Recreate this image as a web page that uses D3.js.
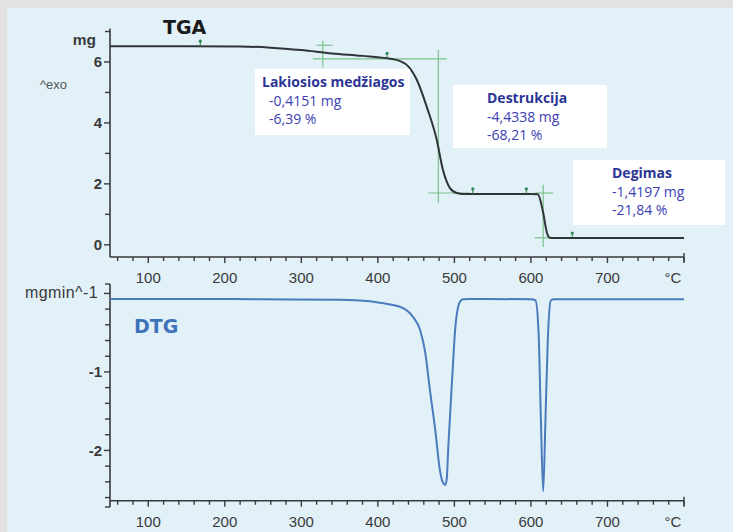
<!DOCTYPE html>
<html><head><meta charset="utf-8">
<script src="https://cdn.jsdelivr.net/npm/d3@7"></script>
<style>html,body{margin:0;padding:0;background:#e2e2e2;}svg{display:block;}</style>
</head><body>
<svg id="c" width="733" height="532"></svg>
<script>
// ---------- DATA ----------
const tgaTemp = [50,150,220,260,300,340,380,412,430,440,451,464,477,485,494,503,512,600,609,613,616,621,625,630,800];
const tgaMass = [6.52,6.52,6.51,6.47,6.39,6.28,6.20,6.12,6.02,5.85,5.41,4.52,3.44,2.46,1.87,1.70,1.67,1.67,1.66,1.40,1.05,0.39,0.23,0.22,0.22];
const dtgTemp = [50,150,250,350,390,403,429,446,455,462,468,475,481,485,488,490,492,497,501,507,511,520,600,606,610,613,616,619,622,626,630,800];
const dtgRate = [-0.07,-0.07,-0.075,-0.08,-0.10,-0.12,-0.17,-0.30,-0.46,-0.76,-1.23,-1.74,-2.25,-2.41,-2.44,-2.36,-1.96,-1.10,-0.46,-0.11,-0.075,-0.07,-0.075,-0.09,-0.50,-1.60,-2.52,-1.60,-0.60,-0.09,-0.075,-0.075];
const xMajorTicks = [100,200,300,400,500,600,700];
const tgaTickLabels = [0,2,4,6];
const dtgTickLabels = [-1,-2];
const markerTemps = [168,412,524,594,654];
// tangent cross lines in data coords [t1,m1,t2,m2]
const crossLines = [
  [328,6.70,328,5.83],[320,6.55,341,6.55],[315,6.10,490,6.10],
  [479,6.39,479,1.38],[466,1.70,520,1.70],
  [616,1.97,616,-0.07],[605,1.70,629,1.70],[605,0.23,625,0.23]
];
const steps = [
  {name:"Lakiosios medžiagos", mg:"-0,4151 mg", pct:"-6,39 %"},
  {name:"Destrukcija", mg:"-4,4338 mg", pct:"-68,21 %"},
  {name:"Degimas", mg:"-1,4197 mg", pct:"-21,84 %"}
];

// ---------- DRAW ----------
const svg = d3.select("#c");
svg.append("rect").attr("x",7).attr("y",8).attr("width",726).attr("height",524).attr("fill","#e2f0f8");

const x = d3.scaleLinear().domain([50,800]).range([110,684]);
const yT = d3.scaleLinear().domain([-0.4,7]).range([257,31.5]);
const yD = d3.scaleLinear().domain([-2.64,0.12]).range([500.7,284]);

const axisColor = "#3a3a3a";
const labFont = "Liberation Sans, Arial, sans-serif";
const titleFont = "DejaVu Sans, Verdana, sans-serif";

function xAxis(yPix, labelY){
  const g = svg.append("g");
  g.append("line").attr("x1",x(50)).attr("x2",x(800)).attr("y1",yPix).attr("y2",yPix)
    .attr("stroke",axisColor).attr("stroke-width",1.6);
  d3.range(60,801,20).forEach(t=>{
    const major = t%100===0;
    g.append("line").attr("x1",x(t)).attr("x2",x(t)).attr("y1",yPix).attr("y2",yPix+(major?6:4))
      .attr("stroke",axisColor).attr("stroke-width",1.4);
  });
  g.append("line").attr("x1",x(800)).attr("x2",x(800)).attr("y1",yPix-4).attr("y2",yPix+5)
    .attr("stroke",axisColor).attr("stroke-width",1.4);
  g.selectAll("text.t").data(xMajorTicks).enter().append("text")
    .attr("x",d=>x(d)).attr("y",labelY).attr("text-anchor","middle")
    .attr("font-family",labFont).attr("font-size",15).attr("fill","#3a3a3a").text(d=>d);
  g.append("text").attr("x",673).attr("y",labelY).attr("text-anchor","middle")
    .attr("font-family",labFont).attr("font-size",15).attr("fill","#3a3a3a").text("°C");
}

// ---- TGA y axis
const gT = svg.append("g");
gT.append("line").attr("x1",110).attr("x2",110).attr("y1",yT(7)-3).attr("y2",257)
  .attr("stroke",axisColor).attr("stroke-width",1.6);
d3.range(0,8).forEach(v=>{
  gT.append("line").attr("x1",110).attr("x2",v%2===0?104:105).attr("y1",yT(v)).attr("y2",yT(v))
    .attr("stroke",axisColor).attr("stroke-width",1.4);
});
gT.selectAll("text").data(tgaTickLabels).enter().append("text")
  .attr("x",102).attr("y",d=>yT(d)+5.5).attr("text-anchor","end")
  .attr("font-family",labFont).attr("font-size",15).attr("fill","#3a3a3a").attr("font-weight","bold").text(d=>d);
gT.append("text").attr("x",96).attr("y",45).attr("text-anchor","end")
  .attr("font-family",labFont).attr("font-size",15.5).attr("font-weight","bold").attr("fill","#3a3a3a").text("mg");
gT.append("text").attr("x",40).attr("y",89)
  .attr("font-family",labFont).attr("font-size",13).attr("fill","#555").text("^exo");
svg.append("text").attr("x",163).attr("y",34)
  .attr("font-family",titleFont).attr("font-size",19).attr("font-weight","bold").attr("fill","#1a1a1a").text("TGA");
xAxis(257, 282.5);

// ---- DTG y axis
const gD = svg.append("g");
gD.append("line").attr("x1",110).attr("x2",110).attr("y1",yD(0.12)).attr("y2",507)
  .attr("stroke",axisColor).attr("stroke-width",1.6);
d3.range(0,14).map(i=>-i*0.2).forEach(v=>{
  gD.append("line").attr("x1",110).attr("x2",Math.abs(v%1)<1e-6?104:105).attr("y1",yD(v)).attr("y2",yD(v))
    .attr("stroke",axisColor).attr("stroke-width",1.4);
});
gD.append("line").attr("x1",110).attr("x2",105).attr("y1",yD(0.12)).attr("y2",yD(0.12)).attr("stroke",axisColor).attr("stroke-width",1.4);
gD.append("line").attr("x1",110).attr("x2",105).attr("y1",507).attr("y2",507).attr("stroke",axisColor).attr("stroke-width",1.4);
gD.selectAll("text").data(dtgTickLabels).enter().append("text")
  .attr("x",102).attr("y",d=>yD(d)+5.5).attr("text-anchor","end")
  .attr("font-family",labFont).attr("font-size",15).attr("font-weight","bold").attr("fill","#3a3a3a").text(d=>d);
gD.append("text").attr("x",98).attr("y",297.5).attr("text-anchor","end")
  .attr("font-family",labFont).attr("font-size",16).attr("fill","#3a3a3a").attr("letter-spacing",0.4).text("mgmin^-1");
svg.append("text").attr("x",134).attr("y",333)
  .attr("font-family",titleFont).attr("font-size",19).attr("font-weight","bold").attr("fill","#3f72b8").text("DTG");
xAxis(500.7, 527);

// ---- Tangent crosses
svg.append("g").selectAll("line").data(crossLines).enter().append("line")
  .attr("x1",d=>x(d[0])).attr("y1",d=>yT(d[1])).attr("x2",d=>x(d[2])).attr("y2",d=>yT(d[3]))
  .attr("stroke","#7cc08e").attr("stroke-width",1.2);

// ---- TGA curve
const tgaData = tgaTemp.map((t,i)=>[t,tgaMass[i]]);
svg.append("path").datum(tgaData)
  .attr("d", d3.line().x(d=>x(d[0])).y(d=>yT(d[1])).curve(d3.curveMonotoneX))
  .attr("fill","none").attr("stroke","#2f3436").attr("stroke-width",2);

// markers
const massAt = d3.scaleLinear().domain(tgaTemp).range(tgaMass);
const mk = svg.append("g");
markerTemps.forEach(t=>{
  const px = x(t), py = yT(massAt(t));
  mk.append("line").attr("x1",px).attr("x2",px).attr("y1",py).attr("y2",py-5).attr("stroke","#2c7a4e").attr("stroke-width",1);
  mk.append("circle").attr("cx",px).attr("cy",py-5).attr("r",1.6).attr("fill","#2c8a55");
});

// ---- DTG curve
const dtgData = dtgTemp.map((t,i)=>[t,dtgRate[i]]);
svg.append("path").datum(dtgData)
  .attr("d", d3.line().x(d=>x(d[0])).y(d=>yD(d[1])).curve(d3.curveMonotoneX))
  .attr("fill","none").attr("stroke","#4a7bbd").attr("stroke-width",2);

// ---- Annotation boxes
const boxes = [
  {x:255,y:69,w:155,h:66,tx:262,vx:269},
  {x:453,y:85,w:154,h:63,tx:487,vx:487},
  {x:573,y:160,w:152,h:65,tx:612,vx:612}
];
const boxFont = "'Open Sans', Lato, sans-serif";
steps.forEach((s,i)=>{
  const b = boxes[i];
  const g = svg.append("g");
  g.append("rect").attr("x",b.x).attr("y",b.y).attr("width",b.w).attr("height",b.h).attr("fill","#ffffff");
  g.append("text").attr("x",b.tx).attr("y",b.y+18).attr("font-family",boxFont).attr("font-size",14)
    .attr("font-weight","bold").attr("fill","#2b3596").text(s.name);
  g.append("text").attr("x",b.vx).attr("y",b.y+37).attr("font-family",boxFont).attr("font-size",14)
    .attr("fill","#3b40b5").text(s.mg);
  g.append("text").attr("x",b.vx).attr("y",b.y+55).attr("font-family",boxFont).attr("font-size",14)
    .attr("fill","#3b40b5").text(s.pct);
});
</script>
</body></html>
